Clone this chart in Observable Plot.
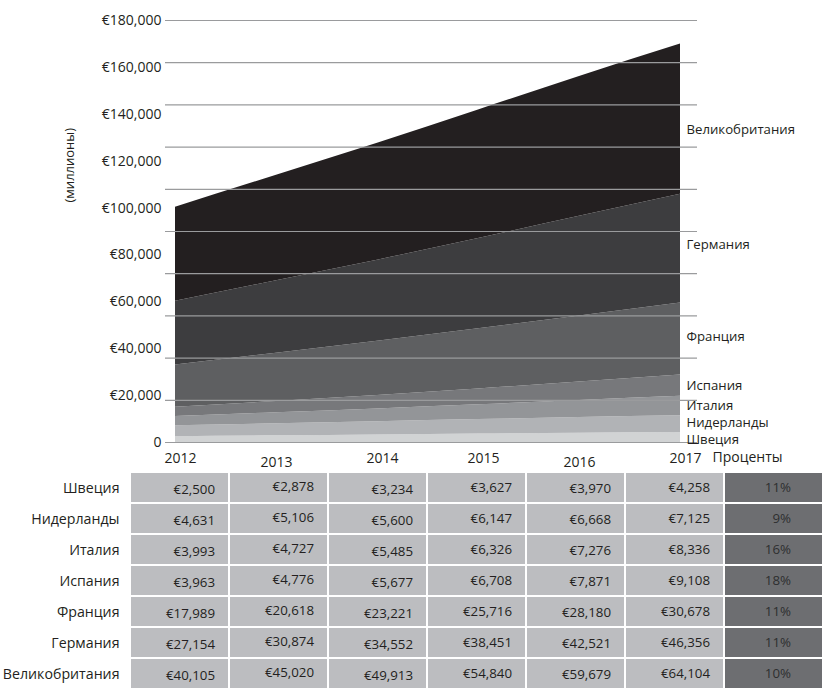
<!DOCTYPE html>
<html>
<head>
<meta charset="utf-8">
<script src="https://cdn.jsdelivr.net/npm/d3@7"></script>
<script src="https://cdn.jsdelivr.net/npm/@observablehq/plot@0.6"></script>
<style>
  html, body { margin: 0; padding: 0; background: #fff; }
  #chart svg { display: block; }
</style>
</head>
<body>
<div id="chart"></div>
<script>
// ---- data ----
const years = [2012, 2013, 2014, 2015, 2016, 2017];
const countries = ["Швеция", "Нидерланды", "Италия", "Испания", "Франция", "Германия", "Великобритания"];
const sweden      = [2500, 2878, 3234, 3627, 3970, 4258];
const netherlands = [4631, 5106, 5600, 6147, 6668, 7125];
const italy       = [3993, 4727, 5485, 6326, 7276, 8336];
const spain       = [3963, 4776, 5677, 6708, 7871, 9108];
const france      = [17989, 20618, 23221, 25716, 28180, 30678];
const germany     = [27154, 30874, 34552, 38451, 42521, 46356];
const uk          = [40105, 45020, 49913, 54840, 59679, 64104];
const percents    = ["11%", "9%", "16%", "18%", "11%", "11%", "10%"];
const yTicks      = [0, 20000, 40000, 60000, 80000, 100000, 120000, 140000, 160000, 180000];
const gridValues  = [0, 18000, 36000, 54000, 72000, 90000, 108000, 126000, 144000, 162000, 180000];
const percentHeader = "Проценты";
const unitLabel = "(миллионы)";
const colors = ["#d1d3d4", "#b1b3b6", "#939598", "#77787b", "#5e5f61", "#3d3d3f", "#231f20"];

const series = [sweden, netherlands, italy, spain, france, germany, uk];
const data = countries.flatMap((c, i) => years.map((yr, j) => ({country: c, year: yr, value: series[i][j]})));

// end labels at the middle of each 2017 band
const last = years.length - 1;
let acc = 0;
const endLabels = countries.map((c, i) => {
  const v = series[i][last];
  const mid = acc + v / 2;
  acc += v;
  return {country: c, year: years[last], mid};
});
const labelDy = {"Швеция": 2, "Нидерланды": -1, "Италия": 0, "Испания": 0, "Франция": -2, "Германия": -4, "Великобритания": 11};

const font = "'Open Sans', 'DejaVu Sans', sans-serif";
const ink = "#231f20";
const fmt = d3.format(",");

const areaChart = Plot.plot({
  width: 826,
  height: 470,
  marginLeft: 175,
  marginRight: 146,
  marginTop: 20,
  marginBottom: 28,
  x: {domain: [2012, 2017]},
  y: {domain: [0, 180000]},
  color: {domain: countries, range: colors},
  style: {fontFamily: font, fontSize: "14px", color: ink, background: "#fff", overflow: "visible"},
  marks: [
    Plot.areaY(data, {x: "year", y: "value", z: "country", fill: "country", curve: "monotone-x"}),
    Plot.ruleY(gridValues, {stroke: "#9a9b9d", strokeWidth: 1.2, insetLeft: -10, insetRight: -17}),
    Plot.axisY({ticks: yTicks, tickSize: 0, tickPadding: 14, label: null,
      tickFormat: d => d === 0 ? "0" : "€" + fmt(d), fontSize: 14}),
    Plot.axisX({ticks: [2012, 2014, 2015, 2017], tickSize: 0, tickPadding: 11, dx: 5, label: null,
      tickFormat: d => String(d), fontSize: 14}),
    Plot.axisX({ticks: [2013, 2016], tickSize: 0, tickPadding: 15, dx: 0, label: null,
      tickFormat: d => String(d), fontSize: 14}),
    ...endLabels.map(d => Plot.text([d], {
      x: "year", y: "mid", text: "country",
      textAnchor: "start", dx: 6, dy: labelDy[d.country], fill: ink, fontSize: 13.2
    })),
    Plot.text([unitLabel], {frameAnchor: "left", rotate: -90, dx: -106, dy: -29, fill: ink, fontSize: 13}),
    Plot.text([percentHeader], {frameAnchor: "bottom-right", dx: 102, dy: 19, fill: ink, fontSize: 14})
  ]
});

// ---- table ----
const cols = years.map(String).concat([percentHeader]);
const valueCells = countries.flatMap((c, i) => years.map((yr, j) => ({country: c, col: String(yr), value: series[i][j]})));
const pctCells = countries.map((c, i) => ({country: c, col: percentHeader, text: percents[i]}));
const colDy = {"2012": 2, "2013": -1, "2014": 2, "2015": 0, "2016": 1, "2017": 0};

const tableChart = Plot.plot({
  width: 826,
  height: 220,
  marginLeft: 127,
  marginRight: 0,
  marginTop: 1,
  marginBottom: 0,
  x: {domain: cols, padding: 0, axis: null},
  y: {domain: countries, padding: 0},
  style: {fontFamily: font, fontSize: "13px", color: ink, background: "#fff"},
  marks: [
    Plot.cell(valueCells, {x: "col", y: "country", fill: "#bcbdc0", inset: 1}),
    Plot.cell(pctCells, {x: "col", y: "country", fill: "#6d6e71", inset: 1}),
    ...years.map(yr => Plot.text(valueCells.filter(d => d.col === String(yr)), {
      x: "col", y: "country", text: d => "€" + fmt(d.value),
      textAnchor: "end", dx: 35, dy: colDy[String(yr)], fill: ink, fontSize: 13.3
    })),
    Plot.text(pctCells, {x: "col", y: "country", text: "text", textAnchor: "end", dx: 17, fill: "#2e2e30", fontSize: 13.3}),
    Plot.axisY({tickSize: 0, tickPadding: 8, label: null, fontSize: 14.2})
  ]
});

const el = document.getElementById("chart");
el.appendChild(areaChart);
el.appendChild(tableChart);
</script>
</body>
</html>
